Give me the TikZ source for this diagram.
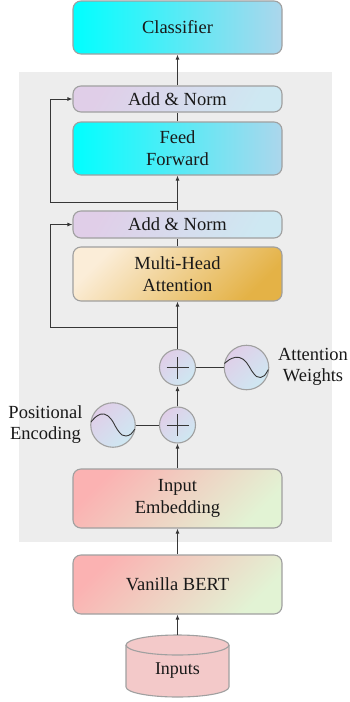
\documentclass[tikz,border=0pt]{standalone}
\usepackage{fontspec}
\setmainfont{Liberation Serif}
\usetikzlibrary{arrows.meta}
\definecolor{bgc}{RGB}{237,237,237}
\definecolor{edgec}{RGB}{160,160,160}
\definecolor{linec}{RGB}{55,55,55}
\definecolor{txtc}{RGB}{25,25,25}
\definecolor{cyanL}{RGB}{0,255,255}
\definecolor{cyanM}{RGB}{120,236,246}
\definecolor{cyanR}{RGB}{172,214,236}
\definecolor{lavL}{RGB}{224,206,232}
\definecolor{lavR}{RGB}{206,232,242}
\definecolor{goldL}{RGB}{251,237,216}
\definecolor{goldM}{RGB}{241,212,150}
\definecolor{goldR}{RGB}{228,178,70}
\definecolor{pinkL}{RGB}{251,178,178}
\definecolor{pinkM}{RGB}{240,210,195}
\definecolor{greenR}{RGB}{226,243,212}
\definecolor{cylc}{RGB}{243,201,201}
\tikzset{
  box/.style={draw=edgec, line width=1.1pt, rounded corners=8pt, minimum width=209pt,
    text=txtc, align=center, inner sep=0pt,
    font=\fontsize{18.5}{22}\selectfont},
  cyanbox/.style={box, left color=cyanL, middle color=cyanM, right color=cyanR},
  normbox/.style={box, top color=lavL, bottom color=lavR, shading angle=60},
  goldbox/.style={box, top color=goldL, middle color=goldM, bottom color=goldR, shading angle=45},
  pinkbox/.style={box, top color=pinkL, middle color=pinkM, bottom color=greenR, shading angle=45},
  circ/.style={circle, draw=edgec, line width=1.1pt, inner sep=0pt, top color=lavL, bottom color=lavR, shading angle=45},
  lbl/.style={text=txtc, align=center, font=\fontsize{18.5}{21}\selectfont},
  conn/.style={draw=linec, line width=1pt},
  arr/.style={conn, -{Latex[length=5pt,width=4pt]}},
}
\begin{document}
\begin{tikzpicture}[x=1pt,y=-1pt]
\useasboundingbox (0,0) rectangle (349,702);
\fill[bgc] (19,72) rectangle (332,542);

\node[cyanbox, minimum height=53pt] (cls) at (177.5,27.5) {Classifier};
\node[normbox, minimum height=26pt] (an1) at (177.5,99) {Add \& Norm};
\node[cyanbox, minimum height=53pt] (ff) at (177.5,148.5) {Feed\\Forward};
\node[normbox, minimum height=27pt] (an2) at (177.5,224.5) {Add \& Norm};
\node[goldbox, minimum height=54pt] (mha) at (177.5,274) {Multi-Head\\Attention};
\node[circ, minimum size=36pt] (p1) at (177.5,367.5) {};
\node[circ, minimum size=44.5pt] (w1) at (246.5,367.5) {};
\node[circ, minimum size=36pt] (p2) at (177.5,425) {};
\node[circ, minimum size=44.5pt] (w2) at (113,425) {};
\node[lbl] (lw) at (313,367) {Attention\\Weights};
\node[lbl] (lp) at (45.5,424.5) {Positional\\Encoding};
\node[pinkbox, minimum height=59pt] (ie) at (177.5,498.5) {Input\\Embedding};
\node[pinkbox, minimum height=59pt] (vb) at (177.5,584.5) {Vanilla BERT};

% cylinder
\fill[cylc] (126,645) -- (126,687) arc[start angle=180,end angle=360,x radius=51.5pt,y radius=10pt]
  -- (229,645) arc[start angle=0,end angle=180,x radius=51.5pt,y radius=10pt] -- cycle;
\draw[edgec, line width=1.1pt] (126,645) -- (126,687) arc[start angle=180,end angle=360,x radius=51.5pt,y radius=10pt]
  -- (229,645);
\draw[edgec, line width=1.1pt] (177.5,645) ellipse [x radius=51.5pt, y radius=10pt];
\node[lbl, font=\fontsize{18}{21}\selectfont] (inp) at (177.5,671) {Inputs};
\coordinate (inptop) at (177.5,635);

% plus signs
\draw[linec, line width=0.9pt] ([xshift=-11pt]p1.center) -- ([xshift=11pt]p1.center)
  ([yshift=-11pt]p1.center) -- ([yshift=11pt]p1.center);
\draw[linec, line width=0.9pt] ([xshift=-11pt]p2.center) -- ([xshift=11pt]p2.center)
  ([yshift=-11pt]p2.center) -- ([yshift=11pt]p2.center);

% waves
\draw[linec, line width=0.9pt, shift={(w1.center)}] plot[smooth, tension=0.7] coordinates
  {(-22,-4) (-15,-9) (-7,-10) (0,-5) (5,3) (10,9) (14,10) (18,8) (21.8,2)};
\draw[linec, line width=0.9pt, shift={(w2.center)}] plot[smooth, tension=0.7] coordinates
  {(-22,-3) (-16,-9) (-9,-11) (-2,-6) (4,4) (9,10) (13,11) (18,9) (21.8,4)};

% connectors
\coordinate (s1) at (177.5,202);
\coordinate (s2) at (177.5,327);
\draw[arr] (an1.north) -- (cls.south);
\draw[conn] (ff.north) -- (an1.south);
\draw[arr] (an2.north) -- (ff.south);
\draw[conn] (mha.north) -- (an2.south);
\draw[arr] (p1.north) -- (mha.south);
\draw[arr] (p2.north) -- (p1.south);
\draw[arr] (ie.north) -- (p2.south);
\draw[arr] (vb.north) -- (ie.south);
\draw[arr] (inptop) -- (vb.south);
\draw[conn] (p1.east) -- (w1.west);
\draw[conn] (w2.east) -- (p2.west);
\draw[arr] (s1) -- (50,202) -- (50,99) -- (an1.west);
\draw[arr] (s2) -- (50,327) -- (50,224.5) -- (an2.west);
\end{tikzpicture}
\end{document}
